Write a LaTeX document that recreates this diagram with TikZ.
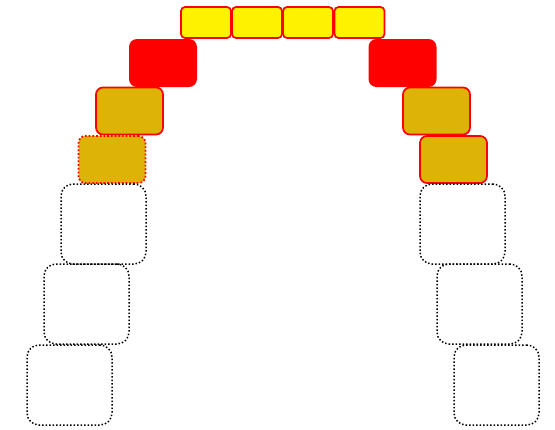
\documentclass[tikz,border=0pt]{standalone}
\definecolor{gold}{RGB}{222,179,8}
\begin{document}
\begin{tikzpicture}[x=1pt,y=-1pt,
  box/.style={rectangle,inner sep=0pt,outer sep=0pt},
  topbox/.style={box,draw=red,fill=yellow,line width=1.7pt,rounded corners=4pt,minimum width=50pt,minimum height=31pt},
  redbox/.style={box,fill=red,rounded corners=8pt,minimum width=68pt,minimum height=48pt},
  goldbox/.style={box,draw=red,fill=gold,line width=1.7pt,rounded corners=7pt,minimum width=67pt,minimum height=47pt},
  goldopen/.style={goldbox,dotted},
  emptybox/.style={box,draw=black,line width=1.5pt,dotted,rounded corners=12pt,minimum width=85pt,minimum height=80pt}]
\useasboundingbox (0,0) rectangle (555,429);
% top row
\node[topbox] (t1) at (206,22.5) {};
\node[topbox] (t2) at (257,22.5) {};
\node[topbox] (t3) at (308,22.5) {};
\node[topbox] (t4) at (359.5,22.5) {};
% red shoulders
\node[redbox] (rl) at (163,63) {};
\node[redbox] (rr) at (402.5,63) {};
% gold blocks
\node[goldbox] (gl1) at (129.5,111) {};
\node[goldopen] (gl2) at (112,159.5) {};
\node[goldbox] (gr1) at (436.5,111) {};
\node[goldbox] (gr2) at (453.5,159.5) {};
% empty dotted blocks
\node[emptybox] (el1) at (103.5,224) {};
\node[emptybox] (el2) at (86.5,304) {};
\node[emptybox] (el3) at (69.5,385) {};
\node[emptybox] (er1) at (462.5,224) {};
\node[emptybox] (er2) at (479.5,304) {};
\node[emptybox] (er3) at (496.5,385) {};
\end{tikzpicture}
\end{document}
